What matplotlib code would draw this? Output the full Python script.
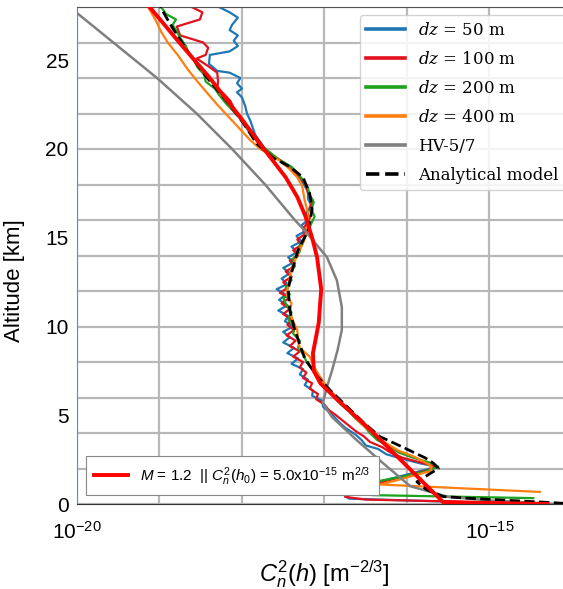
import matplotlib
matplotlib.use('Agg')
import numpy as np
import matplotlib.pyplot as plt
from matplotlib.ticker import FixedLocator, NullFormatter
from matplotlib.font_manager import FontProperties

plt.rcParams['font.family'] = ['Liberation Sans', 'DejaVu Sans']
plt.rcParams['mathtext.fontset'] = 'custom'
plt.rcParams['mathtext.rm'] = 'Liberation Sans'
plt.rcParams['mathtext.it'] = 'Liberation Sans:italic'
plt.rcParams['mathtext.bf'] = 'Liberation Sans:bold'
plt.rcParams['axes.unicode_minus'] = False

# profiles: altitude [km] and log10 of Cn2 [m^-2/3]
alt_50 = [0.05, 0.3, 0.45, 0.7, 0.95, 1.1, 1.3, 1.6, 1.9, 2.1, 2.3, 2.6, 2.8, 3.1, 3.3, 3.6, 3.9,
          4.3, 4.6, 4.9, 5.2, 5.5, 5.8, 6.1, 6.4, 6.7, 7.0, 7.3, 7.6, 7.9, 8.2, 8.5, 8.8, 9.1,
          9.4, 9.7, 10.0, 10.3, 10.6, 10.9, 11.2, 11.5, 11.8, 12.1, 12.4, 12.7, 13.0, 13.3,
          13.6, 13.9, 14.2, 14.5, 14.8, 15.1, 15.4, 15.7, 16.0, 16.4, 16.8, 17.2, 17.6, 18.0,
          18.4, 18.8, 19.2, 19.6, 20.0, 20.4, 20.8, 21.2, 21.6, 22.0, 22.4, 22.9, 23.2, 23.4,
          23.7, 24.0, 24.3, 24.4, 24.8, 25.3, 25.5, 25.8, 26.1, 26.4, 26.7, 27.0, 27.4, 27.7, 28.0]
log_50 = [-14.9, -16.7, -16.75, -16.55, -16.45, -16.5, -16.3, -16.05, -15.8, -15.64, -15.85, -16.1,
          -16.25, -16.35, -16.5, -16.55, -16.62, -16.75, -16.82, -16.88, -16.95, -17.02, -17.02,
          -17.15, -17.14, -17.24, -17.2, -17.3, -17.26, -17.4, -17.32, -17.45, -17.37, -17.5,
          -17.42, -17.5, -17.38, -17.48, -17.44, -17.56, -17.45, -17.55, -17.47, -17.58, -17.45,
          -17.52, -17.42, -17.5, -17.38, -17.44, -17.33, -17.4, -17.28, -17.34, -17.22, -17.28,
          -17.2, -17.22, -17.16, -17.2, -17.2, -17.25, -17.3, -17.38, -17.48, -17.62, -17.72,
          -17.78, -17.84, -17.87, -17.9, -17.94, -17.96, -18.0, -18.06, -18.0, -18.06, -18.02,
          -18.15, -18.3, -18.4, -18.39, -18.15, -18.05, -18.1, -18.05, -18.15, -18.12, -18.05,
          -18.15, -18.28]

alt_100 = [0.05, 0.25, 0.4, 0.7, 1.0, 1.3, 1.6, 1.9, 2.1, 2.3, 2.6, 2.9, 3.2, 3.5, 3.8, 4.1, 4.4,
           4.7, 5.0, 5.3, 5.6, 5.9, 6.2, 6.5, 6.8, 7.1, 7.4, 7.7, 8.0, 8.3, 8.6, 8.9, 9.2, 9.5,
           9.8, 10.1, 10.4, 10.7, 11.0, 11.3, 11.6, 11.9, 12.2, 12.5, 12.8, 13.1, 13.4, 13.7,
           14.0, 14.3, 14.6, 14.9, 15.2, 15.5, 15.9, 16.3, 16.7, 17.1, 17.5, 17.9, 18.3, 18.7,
           19.1, 19.5, 19.9, 20.3, 20.7, 21.1, 21.5, 21.9, 22.3, 22.7, 23.1, 23.4, 23.8, 24.3,
           24.7, 25.1, 25.3, 25.7, 26.0, 26.4, 26.9, 27.3, 27.7, 28.0]
log_100 = [-14.6, -16.5, -16.75, -16.6, -16.45, -16.25, -16.0, -15.75, -15.66, -15.8, -16.05,
           -16.2, -16.3, -16.45, -16.52, -16.62, -16.7, -16.78, -16.86, -16.95, -17.0, -17.1,
           -17.08, -17.18, -17.15, -17.26, -17.22, -17.3, -17.26, -17.38, -17.3, -17.42, -17.35,
           -17.46, -17.37, -17.45, -17.4, -17.5, -17.42, -17.52, -17.43, -17.54, -17.44, -17.5,
           -17.4, -17.47, -17.36, -17.42, -17.32, -17.38, -17.28, -17.33, -17.24, -17.26, -17.2,
           -17.16, -17.18, -17.14, -17.2, -17.22, -17.28, -17.36, -17.45, -17.58, -17.7, -17.8,
           -17.86, -17.93, -17.98, -18.05, -18.1, -18.14, -18.22, -18.3, -18.29, -18.3, -18.42,
           -18.55, -18.44, -18.41, -18.47, -18.75, -18.79, -18.51, -18.48, -18.61]

alt_200 = [0.33, 0.5, 0.7, 1.0, 1.2, 1.5, 1.8, 2.1, 2.3, 2.6, 2.9, 3.2, 3.6, 4.0, 4.4, 4.8, 5.2,
           5.6, 6.0, 6.4, 6.8, 7.2, 7.6, 8.0, 8.4, 8.8, 9.2, 9.6, 10.0, 10.4, 10.8, 11.2, 11.6,
           11.8, 12.2, 12.6, 13.0, 13.4, 13.8, 14.2, 14.6, 15.0, 15.4, 15.8, 16.2, 16.6, 17.0,
           17.4, 17.8, 18.2, 18.6, 19.0, 19.4, 19.8, 20.2, 20.6, 21.0, 21.4, 21.8, 22.2, 22.6,
           23.0, 23.4, 23.8, 24.2, 24.6, 25.0, 25.4, 25.8, 26.2, 26.6, 27.0, 27.3, 27.6, 28.0]
log_200 = [-14.47, -16.42, -16.5, -16.42, -16.45, -16.1, -15.8, -15.62, -15.7, -15.92, -16.1,
           -16.2, -16.36, -16.45, -16.52, -16.62, -16.7, -16.8, -16.88, -16.95, -17.05, -17.1,
           -17.15, -17.22, -17.25, -17.32, -17.3, -17.38, -17.36, -17.44, -17.4, -17.46, -17.5,
           -17.42, -17.47, -17.4, -17.42, -17.36, -17.38, -17.3, -17.3, -17.24, -17.2, -17.16,
           -17.12, -17.16, -17.13, -17.18, -17.2, -17.25, -17.32, -17.4, -17.55, -17.66, -17.76,
           -17.84, -17.92, -17.97, -18.04, -18.12, -18.2, -18.27, -18.33, -18.44, -18.46, -18.54,
           -18.58, -18.65, -18.68, -18.74, -18.79, -18.84, -18.8, -18.92, -18.98]

alt_400 = [0.68, 1.1, 1.3, 1.6, 1.85, 2.1, 2.4, 2.7, 3.0, 3.5, 4.0, 4.5, 5.0, 5.5, 6.0, 6.5, 7.0,
           7.5, 8.0, 8.3, 8.8, 9.2, 9.8, 10.3, 10.8, 11.3, 11.8, 12.3, 12.8, 13.3, 13.8, 14.3,
           14.8, 15.3, 15.8, 16.4, 17.1, 17.9, 18.4, 18.9, 19.4, 20.0, 20.5, 21.0, 21.5, 22.0,
           22.5, 23.2, 23.8, 24.5, 25.3, 26.0, 26.6, 27.2, 27.7, 28.0]
log_400 = [-14.39, -16.33, -16.15, -15.92, -15.72, -15.7, -15.8, -15.93, -16.1, -16.28, -16.42,
           -16.55, -16.65, -16.75, -16.85, -16.95, -17.03, -17.1, -17.15, -17.18, -17.3, -17.32,
           -17.33, -17.38, -17.42, -17.4, -17.46, -17.44, -17.42, -17.4, -17.35, -17.3, -17.25,
           -17.22, -17.2, -17.2, -17.24, -17.27, -17.33, -17.43, -17.56, -17.78, -17.9, -18.0,
           -18.1, -18.2, -18.3, -18.43, -18.54, -18.66, -18.78, -18.9, -18.98, -19.04, -19.1,
           -19.14]

alt_hv = [0.0, 0.2, 0.4, 1.0, 2.3, 3.6, 4.9, 5.7, 6.6, 7.5, 8.7, 9.8, 11.1, 12.6, 13.9, 15.3,
          16.0, 18.0, 20.0, 22.0, 24.0, 27.66, 28.0]
log_hv = [-14.2, -15.0, -15.5, -15.96, -16.29, -16.61, -16.91, -17.02, -16.97, -16.91, -16.84,
          -16.79, -16.79, -16.85, -16.97, -17.22, -17.36, -17.72, -18.12, -18.55, -19.03, -20.0,
          -20.09]

alt_an = [0.0, 0.08, 0.2, 0.32, 0.42, 0.8, 1.25, 1.6, 2.0, 2.3, 2.6, 3.2, 3.8, 4.6, 5.5, 6.4,
          7.2, 8.2, 9.8, 10.9, 12.1, 13.2, 14.3, 15.4, 16.6, 17.5, 18.4, 19.0, 19.5, 20.3, 21.5,
          22.5, 24.0, 25.3, 26.8, 28.0]
log_an = [-13.95, -14.25, -14.75, -15.24, -15.56, -15.76, -15.88, -15.76, -15.62, -15.68, -15.78,
          -16.05, -16.33, -16.53, -16.73, -16.93, -17.09, -17.24, -17.36, -17.42, -17.44, -17.39,
          -17.32, -17.2, -17.15, -17.18, -17.26, -17.42, -17.62, -17.82, -17.99, -18.15, -18.42,
          -18.63, -18.84, -18.99]

alt_fit = [0.0, 0.1, 1.2, 2.5, 4.2, 5.9, 6.8, 7.5, 8.5, 10.2, 12.1, 13.9, 15.0, 16.2, 17.3, 18.4,
           20.1, 21.6, 24.0, 26.0, 28.0]
log_fit = [-14.3, -15.56, -15.8, -16.08, -16.45, -16.85, -17.05, -17.13, -17.14, -17.07, -17.04,
           -17.09, -17.15, -17.23, -17.33, -17.47, -17.75, -17.99, -18.39, -18.76, -19.12]

series = [
    (alt_50, log_50, '#1f77b4', r'$dz$ = 50 m'),
    (alt_100, log_100, '#e3101e', r'$dz$ = 100 m'),
    (alt_200, log_200, '#1ca21c', r'$dz$ = 200 m'),
    (alt_400, log_400, '#ff7f0e', r'$dz$ = 400 m'),
]

fig = plt.figure(figsize=(5.63, 5.89), dpi=100)
ax = fig.add_axes([77 / 563, 85 / 589, 495 / 563, 497 / 589])

handles = []
for alt, lg, col, lab in series:
    h, = ax.plot(10 ** np.array(lg), alt, color=col, lw=1.6, label=lab, zorder=2)
    handles.append(h)
h, = ax.plot(10 ** np.array(log_hv), alt_hv, color='#808080', lw=1.8, label='HV-5/7', zorder=3)
handles.append(h)
h, = ax.plot(10 ** np.array(log_an), alt_an, color='k', ls='--', lw=2, label='Analytical model', zorder=4)
handles.append(h)
fit, = ax.plot(10 ** np.array(log_fit), alt_fit, color='#ff0000', lw=2.8, zorder=5,
               label=r'$M$ = 1.2  || $C_n^2(h_0)$ = 5.0x10$^{-15}$ m$^{2/3}$')

ax.set_xscale('log')
ax.set_xlim(1e-20, 1e-14)
ax.set_ylim(0, 28)

ax.xaxis.set_major_locator(FixedLocator([1e-20, 1e-15]))
ax.xaxis.set_minor_locator(FixedLocator([10.0 ** k for k in range(-20, -13)]))
ax.xaxis.set_minor_formatter(NullFormatter())
ax.yaxis.set_major_locator(FixedLocator([0, 5, 10, 15, 20, 25]))
ax.yaxis.set_minor_locator(FixedLocator(list(range(0, 29, 2))))
ax.xaxis.remove_overlapping_locs = False
ax.yaxis.remove_overlapping_locs = False
ax.grid(False, which='major')
ax.grid(True, which='minor', color='#b8b8b8', lw=1.6)
ax.tick_params(which='both', length=0)
ax.tick_params(axis='y', labelsize=15, pad=6)
ax.tick_params(axis='x', labelsize=15, pad=12)

ax.spines['left'].set_color('#5b8bd6')
ax.spines['top'].set_color('#555555')
ax.spines['bottom'].set_color('#333333')

ax.set_ylabel('Altitude [km]', fontsize=16)
ax.yaxis.set_label_coords(-0.105, 0.45)
ax.set_xlabel(r'$C_n^2(h)$ [m$^{-2/3}$]', fontsize=17)
ax.xaxis.set_label_coords(0.5, -0.11)

serif = FontProperties(family='DejaVu Serif', size=12, math_fontfamily='dejavuserif')
leg1 = ax.legend(handles=handles, loc='upper right', bbox_to_anchor=(0.986, 0.984),
                 borderaxespad=0, prop=serif, framealpha=0.85, edgecolor='#cccccc',
                 handlelength=2.3, labelspacing=0.72)
for ln in leg1.get_lines():
    ln.set_linewidth(2.6)
leg1.set_zorder(10)
ax.add_artist(leg1)

leg2 = ax.legend(handles=[fit], loc='lower left', bbox_to_anchor=(0.018, 0.018),
                 borderaxespad=0, fontsize=11, fancybox=False, framealpha=1,
                 edgecolor='#888888', handlelength=2.2, borderpad=0.55)
leg2.get_frame().set_linewidth(0.8)
leg2.set_zorder(10)

fig.savefig('out.png', dpi=100)
